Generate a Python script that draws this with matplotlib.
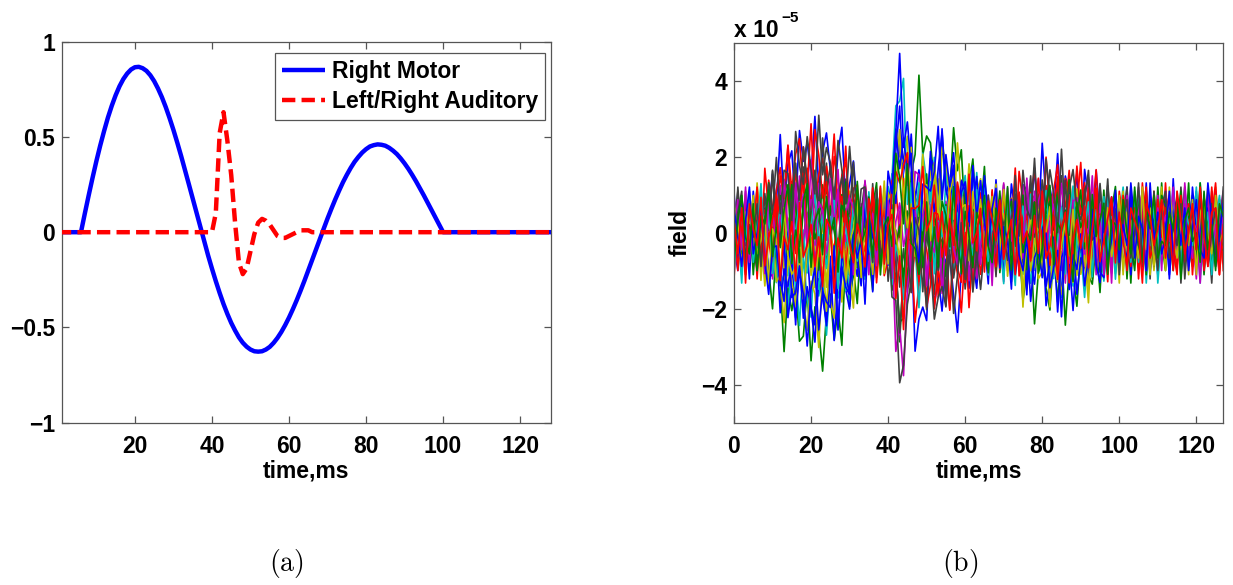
import numpy as np
import matplotlib
matplotlib.use("Agg")
import matplotlib.pyplot as plt

plt.rcParams['font.family'] = ['Liberation Sans', 'DejaVu Sans']
plt.rcParams['font.weight'] = 'bold'
plt.rcParams['mathtext.fontset'] = 'cm'

# ---------------- data ----------------
t_samples = np.arange(0, 129)          # ms
x_ticks_a = [20, 40, 60, 80, 100, 120]
y_ticks_a = [-1, -0.5, 0, 0.5, 1]
x_ticks_b = [0, 20, 40, 60, 80, 100, 120]
y_ticks_b = [-4, -2, 0, 2, 4]

# Right Motor source: t = 0..6 flat, t = 7..100, t = 101..128 flat
motor_lead = [0.0] * 7
motor_active = [0.098, 0.193, 0.285, 0.373, 0.455, 0.531, 0.602, 0.664, 0.719, 0.766,
                0.804, 0.833, 0.854, 0.866, 0.868, 0.861, 0.847, 0.824, 0.793, 0.754,
                0.709, 0.657, 0.599, 0.537, 0.470, 0.400, 0.327, 0.252, 0.177, 0.100,
                0.025, -0.049, -0.122, -0.191, -0.257, -0.319, -0.377, -0.429, -0.476, -0.516,
                -0.552, -0.580, -0.601, -0.616, -0.625, -0.627, -0.625, -0.616, -0.602, -0.581,
                -0.555, -0.524, -0.488, -0.448, -0.404, -0.357, -0.307, -0.255, -0.201, -0.146,
                -0.091, -0.036, 0.018, 0.072, 0.123, 0.172, 0.218, 0.262, 0.301, 0.337,
                0.369, 0.395, 0.418, 0.436, 0.450, 0.457, 0.461, 0.459, 0.454, 0.443,
                0.428, 0.410, 0.387, 0.361, 0.332, 0.300, 0.266, 0.230, 0.193, 0.155,
                0.116, 0.077, 0.038, 0.0]
motor_tail = [0.0] * 28

# Left/Right Auditory source: t = 0..40 flat, t = 41..66 read, rest flat
aud_lead = [0.0] * 41
aud_active = [0.10, 0.52, 0.63, 0.48, 0.30, 0.05, -0.16, -0.22, -0.19, -0.10,
              -0.01, 0.05, 0.07, 0.06, 0.04, 0.01, -0.02, -0.03, -0.03, -0.02,
              -0.01, 0.0, 0.01, 0.01, 0.01, 0.0]
aud_tail = [0.0] * 62

# panel (b): sensor gains (x1e-5) for each source, and sensor noise (x1e-6), t = 0..127
gain_motor = [2.4, -3.0, 1.8, -1.8, 0.5, -0.4, 0.9, -2.3, 0.2, 2.0, -0.7, 0.0,
              -2.1, 1.4, -1.9, 0.4, 0.3, -0.2, 0.7, -0.9, 2.2, -2.2, 0.1, -0.5]
gain_aud = [5.0, -6.0, 3.0, -2.5, 1.0, 4.2, -1.2, 2.0, -3.6, 0.5, 5.8, -6.0,
            1.5, -1.6, 2.6, 0.0, 3.5, -2.0, 0.8, -0.6, -4.6, 4.8, 2.2, -3.0]

noise_a = [3, -6, 8, 1, -4, 10, -2, 5, -9, 0, 6, -3, 12, -7, 2, 4,
           -11, 7, -1, 3, -5, 9, -8, 1, 6, -2, -10, 4, 11, -6, 0, 7,
           -3, -8, 5, 2, -12, 9, 1, -4, 6, -7, 3, 10, -1, -5, 8, -9,
           2, 4, -3, 13, -6, 0, -8, 5, 7, -2, -11, 3, 9, -4, 1, -7,
           6, 2, -9, 11, -3, 4, -1, -6, 8, 0, -10, 5, 3, -4, 7, -8,
           12, -2, 1, -5, 9, -7, 4, 0, -3, 6, -12, 8, 2, -6, 10, -1,
           -4, 5, -9, 3, 7, -2, 11, -8, 0, 4, -6, 9, -3, 1, -10, 6,
           2, -7, 13, -4, 5, -1, -8, 3, 10, -5, 7, -2, -9, 4, 0, 6]
noise_b = [-5, 2, -9, 7, 0, -3, 11, -6, 4, -1, -8, 9, 3, -12, 5, 1,
           8, -4, -2, 10, -7, 6, 0, -10, 3, 7, -5, 1, -9, 12, -3, 4,
           -6, 9, 2, -1, -11, 5, 8, -4, 0, -7, 13, -2, 6, -9, 3, -5,
           10, -8, 1, 4, -3, -12, 7, 2, -6, 9, -1, 5, -10, 0, 8, -4,
           -2, 11, -7, 3, 6, -9, 1, -5, 12, -3, 4, -8, 0, 7, -11, 2,
           5, -1, -6, 9, -4, 8, -10, 3, 1, -7, 6, 11, -2, -5, 4, -9,
           7, 0, -3, 10, -8, 2, 5, -12, 6, -1, 9, -4, 3, -6, 11, -2,
           -9, 4, 1, -5, 8, -3, 12, -7, 0, 6, -10, 3, -1, 9, -4, 2]
noise_c = [9, -2, 4, -7, 1, 6, -11, 3, -4, 8, 0, -6, 5, -1, 10, -9,
           2, -5, 7, -3, 12, -8, 0, 4, -2, -9, 6, 1, -4, 11, -7, 3,
           5, -10, 8, 0, -3, 6, -6, 1, 10, -4, 2, -12, 7, -1, 4, -8,
           3, 9, -5, -2, 11, -7, 4, 0, -9, 6, 1, -3, 8, -11, 2, 5,
           -6, 0, 10, -4, 7, -9, 3, 1, -2, 12, -8, 5, -5, 2, 9, -3,
           -7, 4, 1, -10, 6, 3, -1, 8, -5, 0, 11, -6, 2, -3, 7, -12,
           4, 1, -8, 9, -2, 5, -4, 0, 6, -11, 3, 8, -7, 10, -1, -5,
           12, -3, 2, -6, 0, 7, -9, 4, 1, -4, 9, -8, 5, -2, -10, 3]
noise_d = [-1, 7, -10, 4, 2, -5, 9, -3, 6, -8, 1, 11, -4, 0, -7, 5,
           3, -9, 8, -2, -6, 12, -1, 5, -11, 2, 7, -4, 0, 9, -8, 1,
           10, -3, -7, 6, 1, -2, 4, -10, 8, 3, -5, 0, 11, -9, 2, -4,
           -8, 5, 0, -3, 9, -6, 2, 7, -12, 4, 1, -1, 6, -5, 10, -2,
           4, -11, 6, 1, -4, 8, -7, 3, 0, -9, 13, -2, 5, -6, 2, 7,
           -3, 9, -5, 0, 10, -8, 4, -1, -6, 7, 2, -10, 3, 8, -4, 1,
           -9, 2, 6, -7, 3, 11, -2, 0, 5, -5, 8, -12, 1, 4, -3, 9,
           0, -6, 3, 7, -10, 2, 5, -4, -1, 12, -7, 6, -3, 1, 8, -5]
noise_e = [6, 0, -4, 11, -8, 3, -2, 7, -9, 5, 2, -6, 9, -1, -12, 4,
           -7, 10, 1, -3, 5, -10, 8, 0, 4, -6, 2, 12, -5, 3, -1, -8,
           7, -4, 11, -9, 0, 3, -6, 9, -2, 5, -11, 1, 6, -3, 8, 2,
           -5, 12, -7, 1, 4, -2, -9, 10, 3, -6, 7, 0, -4, 2, -10, 8,
           1, -3, 5, -8, 9, 2, -12, 6, -1, 4, -7, 10, 0, -5, 3, 11,
           -9, 6, 2, -4, 7, -11, 3, 0, 8, -2, 5, -7, 12, -6, 1, 4,
           -3, 8, -10, 5, 0, 2, -6, 9, -4, 11, -8, 1, 3, -2, 6, -9,
           10, -1, 4, -7, 2, 8, -5, 0, -11, 6, 3, -3, 9, -8, 1, 5]
noise_f = [-8, 4, 1, -2, 9, -6, 5, -11, 3, 7, -4, 0, 10, -9, 6, -1,
           11, -5, 2, 8, -7, 0, -3, 6, -10, 4, 9, -2, 1, -6, 12, -4,
           0, 6, -9, 3, 7, -5, -1, 12, -8, 2, 4, -7, -3, 10, -6, 1,
           9, -2, 5, -11, 0, 8, -4, 3, -6, 1, 11, -9, 6, 2, -3, -7,
           3, 8, -6, 0, -10, 5, 2, -3, 9, -8, 1, 6, -12, 4, -2, 10,
           -4, 1, 11, -7, 3, -2, 6, -9, 0, 12, -5, 2, -1, 7, -8, 5,
           8, -6, 0, 4, -12, 9, -1, 3, -7, 5, 10, -4, 2, -9, 1, 7,
           -2, 5, -8, 10, -3, 0, 6, -5, 9, -10, 2, 4, -6, 11, -1, -3]
noise_g = [2, 10, -7, 0, 5, -3, -9, 8, 1, -4, 12, -6, 3, 6, -10, 0,
           -4, 3, 9, -11, 1, 7, -2, -5, 10, -8, 4, 0, -6, 8, 2, -12,
           6, -1, 3, -8, 11, -4, 0, 7, -10, 1, 9, -3, 5, -7, -2, 12,
           -6, 2, 8, -1, -9, 4, 6, -12, 2, 10, -5, 7, -3, 0, 5, -8,
           9, -4, 1, 7, -6, 0, 11, -2, -7, 3, 5, -10, 8, -1, 4, -5,
           2, -9, 6, 3, -1, 10, -8, 5, -3, 1, -11, 8, 0, 4, -6, 9,
           -1, 12, -5, -3, 7, -9, 4, 2, 8, -6, 0, 5, -11, 10, -2, 3,
           -7, 0, 9, -4, 11, -2, -6, 7, 3, -9, 5, 1, -12, 6, 4, -3]
noise_h = [-3, -9, 5, 2, -1, 8, -6, 0, 10, -5, -2, 7, -8, 4, 1, 9,
           -6, 12, -3, 5, 0, -8, 7, 2, -4, 11, -10, 3, 6, -1, -7, 4,
           -2, 8, -5, 10, -12, 4, 3, -6, 1, 7, -9, 5, 0, -4, 12, -1,
           7, -3, -10, 5, 2, -7, 11, -4, 0, 8, -6, 3, 1, -9, 6, 4,
           -10, 7, 2, -5, 12, -1, -8, 4, 6, -3, 0, 9, -6, 1, -4, 8,
           11, -8, -2, 6, 0, -5, 9, 3, -10, 4, 7, -1, -6, 10, -3, 2,
           -5, 3, 9, -2, -8, 1, 6, -10, 4, 7, -4, 12, -9, 0, 5, -1,
           8, -11, 3, 0, 6, -6, 2, 9, -7, 1, -3, 10, -5, 4, -2, 7]
noise_i = [7, -4, 0, -10, 6, 2, 9, -7, 1, -3, 5, -12, 8, 3, -5, 11,
           0, -2, -7, 9, 4, -3, 1, 10, -9, 5, -1, -6, 8, 2, -11, 6,
           -9, 3, 1, -5, 6, 12, -7, -2, 4, -10, 8, 0, -4, 9, 1, -6,
           5, -7, 12, 0, -4, 3, 1, -8, 10, -2, -6, 9, -11, 4, 7, -1,
           -2, 6, -8, 10, -1, -5, 4, 7, -12, 2, 9, -3, 0, 11, -7, 1,
           6, -3, 8, -9, 4, 0, -6, 12, -2, 5, -8, 3, 7, -10, 2, -4,
           10, -7, 2, 1, -5, 8, -11, 4, -3, 9, -1, -6, 5, 3, -8, 12,
           -4, 2, -9, 6, 1, 11, -3, -8, 7, 0, 4, -5, 10, -7, 3, -2]
noise_j = [-11, 5, 3, 8, -6, -1, 4, -9, 12, 0, -7, 2, 6, -4, 9, -3,
           5, 8, -6, 0, -12, 9, 3, -7, 1, -4, 10, -9, 2, 6, -3, 0,
           3, -11, 7, -4, 9, 0, 5, -8, -3, 11, -1, 6, -10, 2, -5, 8,
           -1, 6, -4, 9, -7, 2, -3, 11, -8, 5, 0, -10, 4, 7, -6, 3,
           7, -1, -4, 12, -9, 6, 0, -3, 5, -7, 10, 2, -8, 3, 1, -11,
           -6, 10, -3, 2, 8, -12, 5, 1, -4, 9, -2, 6, -9, 0, 11, -5,
           1, -4, 7, -6, 10, 3, -9, 5, 2, -8, 12, -1, 4, -5, -7, 8,
           5, 9, -3, -8, 0, 4, 7, -10, 2, -1, 6, -6, 11, -3, 8, -9]
noise_k = [4, 1, -12, 6, 3, -8, 0, 10, -5, 7, -2, -9, 11, 1, -6, 4,
           -9, 1, 6, -4, 11, -2, -8, 5, 0, 9, -6, 3, -1, -10, 7, 2,
           8, -2, -6, 11, 0, -9, 4, 3, -7, 6, 1, -4, 9, -12, 5, 2,
           -10, 4, 7, -3, 5, 1, -8, 6, 9, -11, 3, -2, 0, 8, -5, 12,
           -3, 9, -11, 4, 2, -7, 8, 0, -5, 10, -2, -8, 6, 1, 3, -6,
           1, 7, -5, -8, 12, 3, -2, 6, -9, 0, 4, 10, -7, 2, -1, 5,
           -6, 11, -1, 3, -9, 6, 2, -4, 10, -7, 1, 5, -3, 8, -12, 0,
           3, -5, 10, 1, -7, 9, -4, 2, 5, -12, 8, -1, 0, 6, -9, 4]
noise_l = [0, -8, 6, -3, 10, -1, 7, -5, 2, 9, -11, 4, -3, 8, 0, -7,
           12, -6, -1, 4, 8, -9, 2, 6, -5, 0, 11, -7, 3, -2, 9, -10,
           -4, 7, 2, -10, 5, 1, -3, 9, -6, 4, 0, 12, -8, 3, -1, 6,
           2, -9, 4, 6, -2, 11, -7, 0, 5, -3, 9, -5, 10, -12, 1, 7,
           -7, 4, 9, -2, -5, 3, 12, -9, 1, 6, -4, 0, 8, -3, 10, -8,
           3, -2, 0, 10, -7, 5, -12, 4, 9, -1, 2, -8, 6, 5, -10, 7,
           -2, 6, -12, 8, 4, -3, 0, 11, -5, 2, -9, 7, 1, -6, 9, -4,
           1, 7, -4, 3, -9, 12, 0, -6, 8, 2, -5, 9, -2, -7, 4, 10]
noise_m = [5, 3, -7, 9, -2, -6, 12, 1, -9, 4, 8, -3, 0, -10, 7, 2,
           -3, 9, 0, -7, 5, 2, -11, 8, 4, -1, -6, 10, -4, 7, 1, -9,
           11, -5, 0, 4, -8, 7, 2, -12, 6, 1, -3, 9, -7, 5, 10, -2,
           -4, 10, -6, 3, 1, -9, 8, 5, -2, -7, 12, 0, -5, 9, -1, 4,
           8, -7, 3, -1, 11, -4, 6, -8, 2, 0, 9, -12, 5, -2, 7, -3,
           -1, 5, -9, 12, 2, -6, 0, 8, -4, 10, -3, 1, -11, 7, 3, -5,
           6, -2, 4, -9, 1, 10, -7, 3, 0, -5, 8, 2, -10, 5, -4, 11,
           -8, 3, 7, 0, -4, 6, -10, 9, 1, -6, 2, 11, -3, 5, -7, 0]
noise_n = [-6, 11, -2, -5, 8, 0, 3, -8, 7, -3, 10, -1, -9, 5, 2, -4,
           7, -3, 10, 2, -9, 4, -5, 12, -1, 6, -8, 0, 5, -4, -2, 11,
           -5, 1, 9, -6, 3, -11, 7, 0, -2, 8, 5, -10, 2, 6, -7, 4,
           8, -1, -12, 7, 3, 0, 5, -6, 11, -4, 2, 6, -8, 1, 9, -3,
           0, 5, -4, 8, -10, 6, 1, 3, -7, 11, -5, 2, -1, 9, -6, 4,
           -8, 12, 3, -3, 5, -9, 7, -6, 2, 0, -10, 6, 9, -2, 4, -7,
           5, -9, 1, 6, -2, 4, 11, -7, -1, 3, -6, 10, 0, -8, 2, 7,
           -3, 6, -1, 9, -12, 5, 2, -2, -6, 10, -8, 4, 7, -5, 0, 3]
noise_o = [10, -6, 4, 2, -11, 7, -4, 1, 5, -8, 3, 9, -2, -6, 12, -3,
           -1, 6, -4, 11, -3, -7, 9, 1, -8, 3, 5, -11, 7, 0, -5, 10,
           1, -7, 12, -2, 6, -5, 0, 8, -11, 3, 7, -6, 4, -1, 9, -9,
           6, 0, -5, 9, -8, 3, 12, -1, -4, 7, -10, 2, 5, -6, 1, 8,
           -5, 10, 2, -9, 4, 7, -3, 0, 11, -6, 1, 5, -9, 12, -2, 3,
           9, -5, 1, 7, -11, 2, 4, -3, 6, -8, 0, 12, -4, 1, 8, -6,
           -8, 3, 10, -4, 6, -1, -7, 12, 2, -3, 5, -9, 7, 1, -5, 6,
           2, -10, 5, 8, -3, 1, -7, 11, 0, 4, -9, 6, -2, 10, -6, 1]
noise_p = [-2, 8, -5, 0, 7, -10, 2, 6, -4, 11, -7, 1, 5, -3, -8, 9,
           4, -10, 3, 7, -1, 6, -12, 2, 9, -3, 0, 5, -7, 10, -4, -2,
           -7, 5, -3, 8, 2, -9, 11, -5, 0, 6, -2, 3, -11, 7, 4, -1,
           11, -6, 2, -4, 7, 0, -10, 9, 3, -1, 5, -8, 12, -3, -6, 2,
           5, -2, -9, 6, 1, 10, -5, -1, 7, -4, 3, 8, -10, 0, 6, -7,
           -10, 3, 6, -1, 8, -4, 0, 11, -7, 2, 9, -5, 3, -12, 5, 1,
           3, -8, 5, 11, -4, 0, 7, -2, -9, 6, 1, -10, 8, 2, -3, 9,
           7, -1, -6, 2, 10, -8, 4, 0, -5, 12, -2, 3, -9, 5, 1, -4]
noise_q = [4, -9, 2, 7, -3, 0, 11, -6, 5, -2, -10, 8, 1, -5, 9, -1,
           -7, 3, 12, -4, 0, 6, -8, 2, 10, -3, -6, 4, 7, -11, 1, 5,
           9, -2, -5, 3, 8, -12, 0, 6, -4, 10, -1, -7, 2, 11, -8, 3,
           -3, 7, 1, -9, 5, 4, -6, 0, 12, -5, 3, -2, -10, 8, 6, -4,
           10, -6, 4, 0, -8, 2, 9, -3, -1, 7, -11, 5, 3, -7, 1, 12,
           -5, 2, -9, 6, 11, -1, -4, 8, -7, 0, 5, -3, 10, -9, 2, 4,
           0, -12, 7, 3, -5, 9, 1, -8, 6, -2, 4, 11, -6, -3, 8, -1,
           6, 1, -4, -10, 9, -7, 3, 5, -2, 8, -9, 0, 4, 12, -5, -3]
noise_r = [-10, 6, 3, -2, 8, -7, 1, 12, -4, 5, -9, 0, 7, -3, 4, -6,
           2, 9, -5, -8, 3, 11, -1, 6, -7, 0, 10, -12, 4, 2, -4, 8,
           -6, 1, 10, -3, -7, 5, 9, -1, 2, -11, 6, 4, -8, 0, 12, -5,
           7, -4, -1, 11, -10, 3, 0, 6, -5, 8, 2, -9, 5, -2, -6, 10,
           -3, 8, -7, 2, 5, -1, -12, 9, 4, -6, 1, 7, -4, 10, -8, 0,
           3, 11, -2, -6, 0, 7, -9, 4, 12, -3, -5, 2, 8, -10, 6, -1,
           9, -5, 4, -11, 2, 0, 6, -7, 3, 10, -2, -8, 1, 5, -4, 7,
           -7, 4, 8, -1, -9, 6, 2, -3, 11, -6, 0, 5, -10, 3, 9, -2]
noise_s = [1, 8, -4, 10, -7, 2, -2, 5, -11, 7, 3, -6, 0, 9, -3, -8,
           6, -1, 4, -9, 12, -5, 2, 0, -7, 8, -3, 6, -10, 1, 5, 3,
           -2, -6, 11, 0, 4, -8, 7, -3, 9, -10, 1, 5, -4, 2, -7, 10,
           5, 12, -8, 2, -1, 6, -11, 3, 7, 0, -4, 9, -6, 4, 1, -9,
           -1, 3, 6, -12, 8, 0, -5, 10, -3, 2, 7, -8, 11, -4, -2, 5,
           8, -7, 0, 4, -3, 9, 1, -10, 5, 6, -6, 0, -2, 12, -8, 3,
           -11, 4, 2, 7, -6, -1, 9, 0, -4, 5, 10, -9, 3, -3, 6, 1,
           4, -2, 11, -5, 0, 7, -8, 3, 1, -12, 6, 9, -4, 2, -7, 5]
noise_t = [8, -3, -7, 5, 1, 9, -5, -1, 6, -10, 4, 2, -8, 11, 0, -4,
           -2, 10, -9, 3, 6, -6, 4, 1, -12, 7, 0, -3, 9, -7, 2, 5,
           11, -8, 3, 1, -5, 7, -2, 10, -9, 4, 0, -6, 8, -1, 3, -11,
           -4, 0, 6, -7, 12, 1, -3, -8, 5, 9, -6, 2, 3, -10, 7, 0,
           6, -9, -2, 8, 0, -4, 11, 2, -6, 3, 5, -12, 1, 7, -5, 9,
           -6, 4, 10, -3, -8, 1, 6, -2, 9, -7, 3, 8, -11, 0, 4, -3,
           2, 7, -5, 0, 9, -10, 5, 3, -1, -6, 11, -4, 6, -8, 1, 3,
           -9, 11, 0, -6, 4, 2, -3, 8, -10, 5, 7, -1, -5, 9, -2, 0]
noise_u = [-4, 5, 10, -8, 2, -1, 7, -10, 0, 6, -3, 9, -6, 3, 1, -12,
           9, 0, -5, 6, -2, -8, 11, -3, 4, 1, -7, 8, 2, -5, 10, -1,
           -8, 4, 6, -2, -9, 10, -4, 0, 7, -6, 12, -2, -3, 5, 1, 8,
           3, -10, 9, 5, -6, 0, 2, -4, 8, -9, -1, 11, -3, 6, -7, 2,
           -8, 1, 12, -5, 3, 7, -2, -9, 0, 5, -6, 9, -1, -4, 10, -7,
           4, -3, 6, 0, -9, 11, -6, 2, 7, -2, -4, 1, 9, -7, -5, 8,
           -3, 9, -1, 5, -10, 3, 8, -6, 0, 12, -8, 4, 2, -1, -9, 6,
           10, -6, 2, -3, 7, -11, 1, 5, -4, 8, 3, -7, 0, 6, -2, 11]
noise_v = [6, -1, -8, 3, 11, -5, 0, 8, -3, -9, 4, 6, -2, 10, -7, 1,
           -5, 7, 2, -10, 4, 9, -6, 3, 0, -2, 12, -8, 5, -1, -4, 9,
           2, 5, -12, 7, 1, -3, 6, -7, 11, 0, -5, 8, -9, 4, 3, -6,
           -9, 8, 3, -2, 0, 10, -7, 5, -1, 6, -11, 4, 2, -5, 9, -3,
           7, -2, -6, 4, 10, -8, 3, 1, -10, 12, 0, -3, 6, -9, 2, 5,
           -2, 9, -4, 1, 5, -11, 8, -5, 3, -1, 7, -6, 0, 11, -3, -8,
           8, -4, 0, 11, -7, 2, -3, 9, -6, 4, 1, -9, 12, -2, 5, -5,
           -1, 10, -7, 4, -2, 6, -9, 1, 8, -4, -6, 12, 3, -8, 0, 7]
noise_w = [-7, 3, 9, -1, -5, 7, -9, 4, 2, 10, -6, 1, -4, 5, 11, -8,
           0, -4, 7, 11, -9, 2, 5, -6, 8, -1, 3, -10, 6, 4, -2, -7,
           12, -3, 0, 5, -6, 8, -10, 2, 4, -5, 9, 1, -7, 11, -3, 0,
           -5, 3, 10, -6, 1, -9, 7, 4, -3, 12, -2, -7, 6, 0, -8, 5,
           2, 9, -3, -7, 6, 1, -4, 11, -9, 3, 8, -5, 0, -2, 7, -10,
           -4, 6, 11, -8, 2, 0, 5, -3, -12, 7, 1, 4, -6, 9, -1, 3,
           7, -10, 3, 2, -4, 8, 0, -5, 11, -3, -7, 6, 1, 9, -6, -2,
           -3, 5, 1, 8, -11, 3, 6, -2, 0, -7, 10, -4, 2, -9, 7, 4]
noise_x = [3, -5, 6, -12, 7, 1, -3, 9, -7, 0, 5, 10, -9, 2, -1, 6,
           -8, 11, -2, 1, 6, -4, 3, -9, 7, 5, -11, 2, -3, 8, 0, -5,
           4, 0, -7, 9, 2, -4, 11, -8, 1, 6, -3, 10, -12, 3, 5, -1,
           -2, 8, -5, 0, 10, -3, 4, -7, 1, -6, 9, 3, -8, 12, -4, -1,
           5, -10, 7, 3, -2, 8, -6, 0, 4, -9, 11, -1, 2, -5, 6, -3,
           12, -4, -1, 6, -9, 3, 7, -10, 0, 5, -2, 8, -7, 2, 10, -6,
           -1, 4, 9, -7, 5, -2, -8, 6, 3, 0, -12, 7, 4, -3, 1, 8,
           -6, 2, -9, 10, 3, -5, 0, 7, -4, 11, -1, -8, 5, 6, -10, 2]

noise_rows = [noise_a, noise_b, noise_c, noise_d, noise_e, noise_f, noise_g, noise_h,
              noise_i, noise_j, noise_k, noise_l, noise_m, noise_n, noise_o, noise_p,
              noise_q, noise_r, noise_s, noise_t, noise_u, noise_v, noise_w, noise_x]

# ---------------- assemble ----------------
motor = np.array(motor_lead + motor_active + motor_tail, dtype=float)
aud = np.array(aud_lead + aud_active + aud_tail, dtype=float)

matlab_colors = [(0, 0, 1), (0, 0.5, 0), (1, 0, 0), (0, 0.75, 0.75),
                 (0.75, 0, 0.75), (0.75, 0.75, 0), (0.25, 0.25, 0.25)]

fig = plt.figure(figsize=(12.33, 5.85), dpi=100)
W, H = 1233.0, 585.0
ax1 = fig.add_axes([61.7 / W, 1 - 422.7 / H, (551 - 61.7) / W, (422.7 - 41.7) / H])
ax2 = fig.add_axes([734 / W, 1 - 422.7 / H, (1223.3 - 734) / W, (422.7 - 43.3) / H])

FS = 16.5
SPINE = '#555555'

# ---------------- panel (a) ----------------
ax1.plot(t_samples[:len(motor)], motor, color='blue', lw=3.2, label='Right Motor',
         solid_capstyle='butt', zorder=2)
ax1.plot(t_samples[:len(aud)], aud, color='red', lw=3.2, ls=(0, (3.0, 1.4)),
         label='Left/Right Auditory', dash_capstyle='butt', zorder=3)
ax1.set_xlim(1, 128)
ax1.set_ylim(-1, 1)
ax1.set_xticks(x_ticks_a)
ax1.set_yticks(y_ticks_a)
ax1.set_yticklabels(['\u22121', '\u22120.5', '0', '0.5', '1'])
ax1.set_xlabel('time,ms', fontsize=FS, fontweight='bold', labelpad=1)
leg = ax1.legend(loc='upper right', bbox_to_anchor=(0.9877, 0.9696), fontsize=FS,
                 frameon=True, fancybox=False, edgecolor=SPINE, framealpha=1,
                 borderaxespad=0.0, handlelength=1.85, handletextpad=0.32,
                 borderpad=0.3, labelspacing=0.3)
leg.get_frame().set_linewidth(0.9)
for txt in leg.get_texts():
    txt.set_fontweight('bold')

# ---------------- panel (b) ----------------
for k, row in enumerate(noise_rows):
    n = min(len(row), 128)
    trace = gain_motor[k] * motor[:n] + gain_aud[k] * aud[:n] + 0.11 * np.array(row[:n], dtype=float)
    ax2.plot(t_samples[:n], trace, color=matlab_colors[k % 7], lw=1.2)
ax2.set_xlim(0, 127)
ax2.set_ylim(-5, 5)
ax2.set_xticks(x_ticks_b)
ax2.set_yticks(y_ticks_b)
ax2.set_yticklabels(['\u22124', '\u22122', '0', '2', '4'])
ax2.set_xlabel('time,ms', fontsize=FS, fontweight='bold', labelpad=1)
ax2.set_ylabel('field', fontsize=FS, fontweight='bold')
ax2.yaxis.set_label_coords(-0.0864, 0.5)
ax2.text(0.0, 1.0174, 'x 10', transform=ax2.transAxes, ha='left', va='baseline',
         fontsize=FS, fontweight='bold')
ax2.text(0.096, 1.057, '\u22125', transform=ax2.transAxes, ha='left', va='baseline',
         fontsize=11, fontweight='bold')

for ax in (ax1, ax2):
    for s in ax.spines.values():
        s.set_linewidth(0.9)
        s.set_color(SPINE)
    ax.tick_params(direction='in', length=5, width=0.9, top=True, right=True,
                   labelsize=FS, colors=SPINE, labelcolor='black')
    ax.tick_params(axis='x', pad=9)
    ax.tick_params(axis='y', pad=5)
    for lbl in ax.get_xticklabels() + ax.get_yticklabels():
        lbl.set_fontweight('bold')

fig.text(286.5 / W, 1 - 564 / H, r'$\mathrm{(a)}$', ha='center', va='center', fontsize=20)
fig.text(960 / W, 1 - 564 / H, r'$\mathrm{(b)}$', ha='center', va='center', fontsize=20)

fig.savefig('out.png', dpi=100, facecolor='white')
